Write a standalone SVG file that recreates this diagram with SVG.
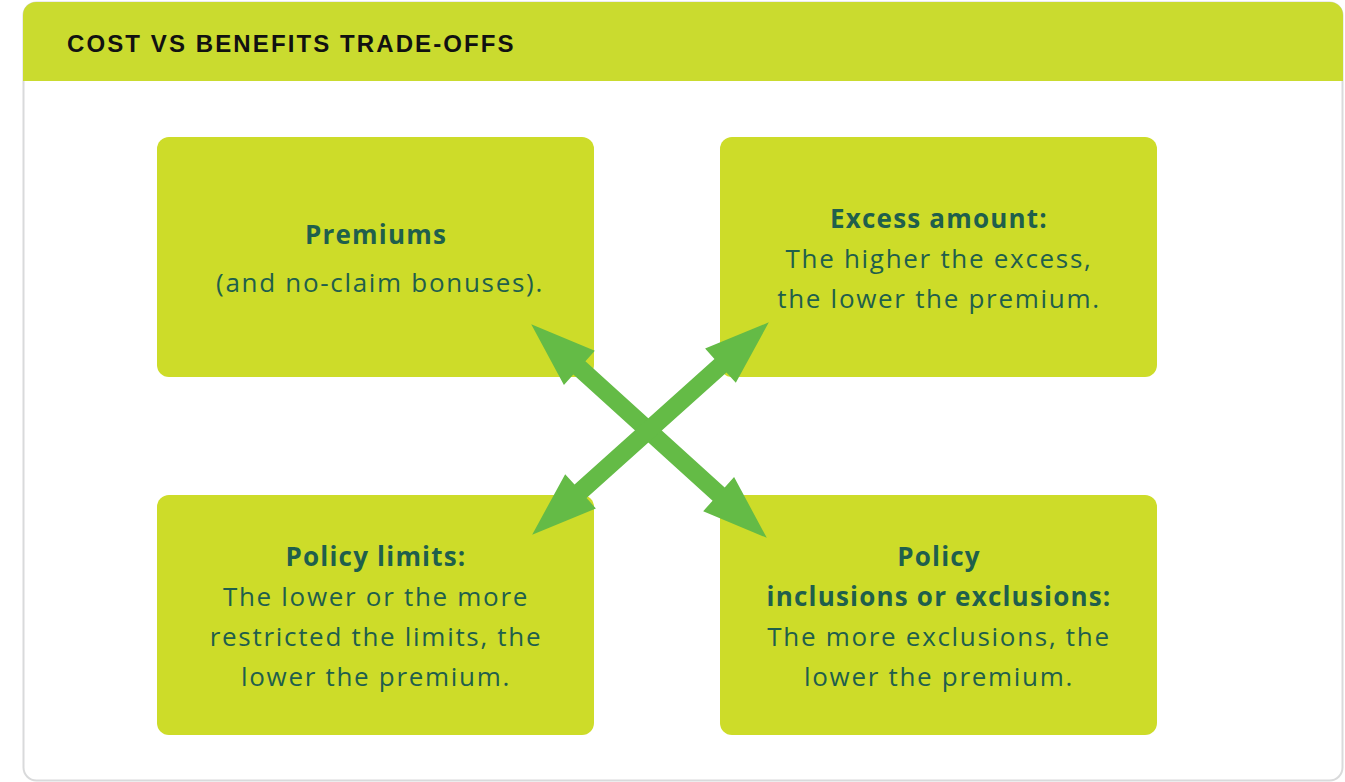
<svg xmlns="http://www.w3.org/2000/svg" width="1345" height="782" viewBox="0 0 1345 782">
<style>
.box{fill:#cddc29}
.t{font-family:"Open Sans","Liberation Sans",sans-serif;font-size:26px;fill:#1f5f4c;text-anchor:middle;letter-spacing:1.7px}
.b{font-weight:bold;letter-spacing:1.2px}
.arrow{fill:#64bb46}
</style>
<defs>
<path id="dbl" d="M -159 0 L -94 -23 L -94 -9 L 94 -9 L 94 -23 L 159 0 L 94 23 L 94 9 L -94 9 L -94 23 Z"/>
</defs>
<g id="frame">
<rect x="23.5" y="2.5" width="1319" height="778" rx="13" fill="#ffffff" stroke="#d9dadb" stroke-width="2"/>
<path d="M23 81 V15 A13 13 0 0 1 36 2 H1330 A13 13 0 0 1 1343 15 V81 Z" fill="#cadb2f"/>
<text x="67" y="52" font-family="'Liberation Sans',sans-serif" font-weight="bold" font-size="24" letter-spacing="2.1" fill="#111">COST VS BENEFITS TRADE-OFFS</text>
</g>
<g id="premiums">
<rect class="box" x="157" y="137" width="437" height="240" rx="12"/>
<text class="t b" x="376" y="244">Premiums</text>
<text class="t" x="380" y="292">(and no-claim bonuses).</text>
</g>
<g id="excess">
<rect class="box" x="720" y="137" width="437" height="240" rx="12"/>
<text class="t b" x="939" y="228">Excess amount:</text>
<text class="t" x="939" y="268">The higher the excess,</text>
<text class="t" x="939" y="308">the lower the premium.</text>
</g>
<g id="limits">
<rect class="box" x="157" y="495" width="437" height="240" rx="12"/>
<text class="t b" x="376" y="566">Policy limits:</text>
<text class="t" x="376" y="606">The lower or the more</text>
<text class="t" x="376" y="646">restricted the limits, the</text>
<text class="t" x="376" y="686">lower the premium.</text>
</g>
<g id="inclusions">
<rect class="box" x="720" y="495" width="437" height="240" rx="12"/>
<text class="t b" x="939" y="566">Policy</text>
<text class="t b" x="939" y="606">inclusions or exclusions:</text>
<text class="t" x="939" y="646">The more exclusions, the</text>
<text class="t" x="939" y="686">lower the premium.</text>
</g>
<g id="connectors">
<use href="#dbl" class="arrow" transform="translate(649 431) rotate(42.2)"/>
<use href="#dbl" class="arrow" transform="translate(650.5 428.5) rotate(-41.9)"/>
</g>
</svg>
